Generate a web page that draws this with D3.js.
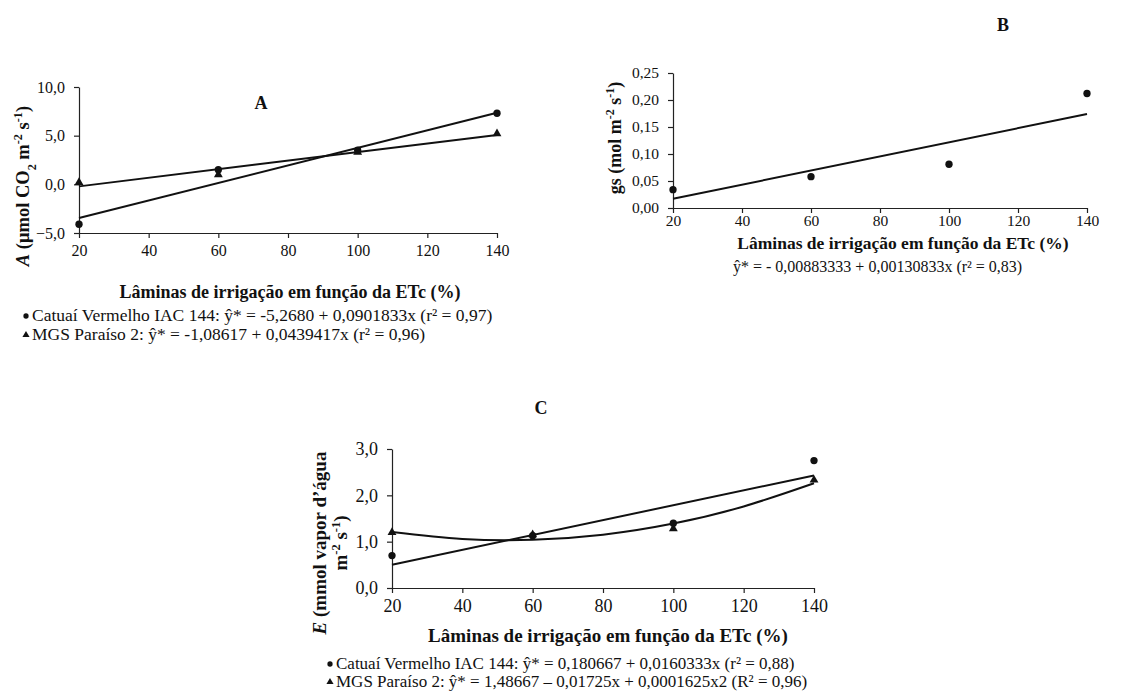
<!DOCTYPE html>
<html>
<head>
<meta charset="utf-8">
<script src="https://cdn.jsdelivr.net/npm/d3@7"></script>
<style>
  body { margin: 0; background: #fff; }
  svg text { font-family: "Liberation Serif", "Times New Roman", serif; fill: #111; }
</style>
</head>
<body>
<div id="chart"></div>
<script>
// irrigation levels (% ETc)
const lamina = [20, 60, 100, 140];
const xTicks = [20, 40, 60, 80, 100, 120, 140];
const fitEnds = [20, 140];

// A - net photosynthesis
const aCatuai = [-4.1, 1.5, 3.5, 7.3];
const aMgs = [0.2, 1.0, 3.3, 5.2];
const aCatuaiFit = [-3.46, 7.36];
const aMgsFit = [-0.21, 5.07];
const aTicks = [-5, 0, 5, 10];

// B - stomatal conductance
const gsCatuai = [0.034, 0.058, 0.081, 0.212];
const gsFit = [0.017, 0.174];
const gsTicks = [0, 0.05, 0.10, 0.15, 0.20, 0.25];

// C - transpiration
const eCatuai = [0.7, 1.13, 1.4, 2.75];
const eMgs = [1.2, 1.15, 1.28, 2.33];
const eCatuaiFit = [0.50, 2.43];
const eMgsFit = [1.21, 1.06, 1.04, 1.15, 1.39, 1.76, 2.26]; // at xTicks
const eTicks = [0, 1, 2, 3];

const loc = d3.formatLocale({decimal: ",", thousands: ".", grouping: [3], currency: ["", ""]});

const svg = d3.select('#chart').append('svg')
  .attr('width', 1137).attr('height', 691);

function panel(cfg) {
  const g = svg.append('g');
  const x = d3.scaleLinear().domain([20, 140]).range(cfg.xr);
  const y = d3.scaleLinear().domain(cfg.yd).range(cfg.yr);

  const xa = g.append('g')
    .attr('transform', 'translate(0,' + cfg.yr[0] + ')')
    .call(d3.axisBottom(x).tickValues(xTicks).tickSize(5).tickSizeOuter(0).tickPadding(cfg.xp));
  const ya = g.append('g')
    .attr('transform', 'translate(' + cfg.xr[0] + ',0)')
    .call(d3.axisLeft(y).tickValues(cfg.yt).tickSize(5).tickSizeOuter(0).tickPadding(9)
      .tickFormat(loc.format(cfg.fmt)));
  [xa, ya].forEach(a => {
    a.selectAll('path, line').attr('stroke', '#222').attr('stroke-width', 1.2);
    a.selectAll('text').style('font-size', cfg.tf + 'px').attr('fill', '#111');
  });

  const line = d3.line().x(d => x(d[0])).y(d => y(d[1]));
  cfg.fits.forEach(f => {
    g.append('path')
      .attr('d', line.curve(f.curve || d3.curveLinear)(f.xs.map((v, i) => [v, f.ys[i]])))
      .attr('fill', 'none').attr('stroke', '#111').attr('stroke-width', 2);
  });

  cfg.series.forEach(s => {
    g.selectAll(null).data(s.vals).enter().append('path')
      .attr('d', d3.symbol(s.sym, s.size))
      .attr('transform', (d, i) => 'translate(' + x(lamina[i]) + ',' + y(d) + ')')
      .attr('fill', '#111');
  });

  g.append('text').attr('x', cfg.title[1]).attr('y', cfg.title[2])
    .attr('text-anchor', 'middle').style('font-size', '18px').style('font-weight', 'bold')
    .text(cfg.title[0]);

  g.append('text').attr('x', cfg.xt[0]).attr('y', cfg.xt[1])
    .attr('text-anchor', 'middle').style('font-size', cfg.xf + 'px').style('font-weight', 'bold')
    .text('Lâminas de irrigação em função da ETc (%)');
  return g;
}

function ylabel(xp, yp, fs, parts) {
  const t = svg.append('text')
    .attr('transform', 'translate(' + xp + ',' + yp + ') rotate(-90)')
    .attr('text-anchor', 'middle').style('font-size', fs + 'px').style('font-weight', 'bold');
  parts.forEach(p => {
    const ts = t.append('tspan').text(p[0]);
    if (p[1] === 'i') ts.style('font-style', 'italic');
    if (p[1] === 'sup') ts.attr('baseline-shift', 'super').style('font-size', (fs * 0.66) + 'px');
    if (p[1] === 'sub') ts.attr('baseline-shift', 'sub').style('font-size', (fs * 0.66) + 'px');
  });
}

function legendRow(xp, yp, fs, sym, txt) {
  svg.append('path').attr('d', d3.symbol(sym, 22))
    .attr('transform', 'translate(' + xp + ',' + (yp - 5) + ')').attr('fill', '#111');
  svg.append('text').attr('x', xp + 6).attr('y', yp).style('font-size', fs + 'px').text(txt);
}

// Panel A
panel({
  xr: [79, 497], yd: [-5, 10], yr: [233, 87], yt: aTicks, fmt: '.1f', tf: 16, xf: 18, xp: 7,
  title: ['A', 261, 109], xt: [290, 298],
  fits: [
    {xs: fitEnds, ys: aCatuaiFit},
    {xs: fitEnds, ys: aMgsFit}
  ],
  series: [
    {vals: aCatuai, sym: d3.symbolCircle, size: 42},
    {vals: aMgs, sym: d3.symbolTriangle, size: 34}
  ]
});
ylabel(29, 186, 18.5, [['A', 'i'], [' (μmol CO'], ['2', 'sub'], [' m'], ['-2', 'sup'], [' s'], ['-1', 'sup'], [')']]);
legendRow(26, 321, 17.5, d3.symbolCircle, 'Catuaí Vermelho IAC 144: ŷ* = -5,2680 + 0,0901833x (r² = 0,97)');
legendRow(26, 340, 17.5, d3.symbolTriangle, 'MGS Paraíso 2: ŷ* = -1,08617 + 0,0439417x (r² = 0,96)');

// Panel B
panel({
  xr: [673, 1087], yd: [0, 0.25], yr: [208, 73], yt: gsTicks, fmt: '.2f', tf: 15.5, xf: 17.5, xp: 2,
  title: ['B', 1003, 31], xt: [903, 249],
  fits: [{xs: fitEnds, ys: gsFit}],
  series: [{vals: gsCatuai, sym: d3.symbolCircle, size: 42}]
});
ylabel(621, 138, 18, [['gs (mol m'], ['-2', 'sup'], [' s'], ['-1', 'sup'], [')']]);
svg.append('text').attr('x', 733).attr('y', 272).style('font-size', '16px')
  .text('ŷ* = - 0,00883333 + 0,00130833x (r² = 0,83)');

// Panel C
panel({
  xr: [392, 814], yd: [0, 3], yr: [588, 449], yt: eTicks, fmt: '.1f', tf: 18, xf: 19, xp: 6,
  title: ['C', 541, 414], xt: [608, 642],
  fits: [
    {xs: fitEnds, ys: eCatuaiFit},
    {xs: xTicks, ys: eMgsFit, curve: d3.curveNatural}
  ],
  series: [
    {vals: eCatuai, sym: d3.symbolCircle, size: 42},
    {vals: eMgs, sym: d3.symbolTriangle, size: 34}
  ]
});
ylabel(326, 543, 19, [['E', 'i'], [' (mmol vapor d’água']]);
ylabel(347, 543, 19, [['m'], ['-2', 'sup'], [' s'], ['-1', 'sup'], [')']]);
legendRow(330, 669, 17, d3.symbolCircle, 'Catuaí Vermelho IAC 144: ŷ* = 0,180667 + 0,0160333x (r² = 0,88)');
legendRow(330, 687, 17, d3.symbolTriangle, 'MGS Paraíso 2: ŷ* = 1,48667 – 0,01725x + 0,0001625x2 (R² = 0,96)');
</script>
</body>
</html>
